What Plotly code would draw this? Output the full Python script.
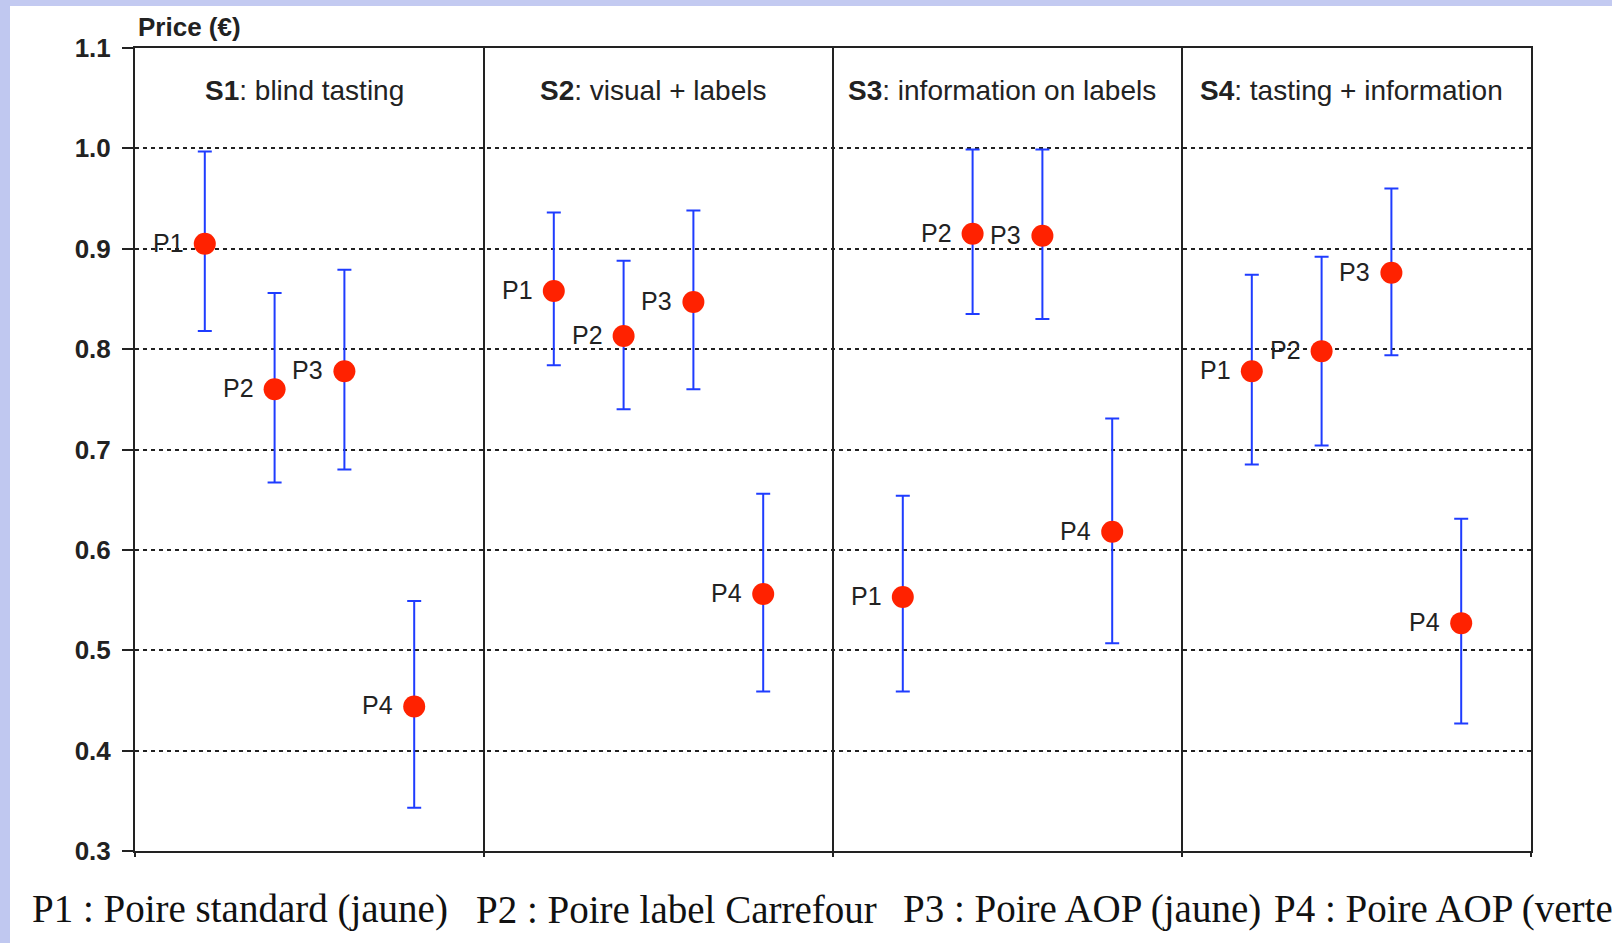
import plotly.graph_objects as go

# ---- data -------------------------------------------------------------
sessions = ["S1", "S2", "S3", "S4"]
session_titles = ["blind tasting", "visual + labels",
                  "information on labels", "tasting + information"]
products = ["P1", "P2", "P3", "P4"]

# mean willingness to pay (EUR) per product, one list per session
mean_s1 = [0.905, 0.760, 0.778, 0.444]
mean_s2 = [0.858, 0.813, 0.847, 0.556]
mean_s3 = [0.553, 0.915, 0.913, 0.618]
mean_s4 = [0.778, 0.798, 0.876, 0.527]

# upper / lower bounds of the intervals
upper_s1 = [0.997, 0.856, 0.879, 0.549]
upper_s2 = [0.936, 0.888, 0.938, 0.656]
upper_s3 = [0.654, 0.999, 0.999, 0.731]
upper_s4 = [0.874, 0.892, 0.960, 0.631]

lower_s1 = [0.818, 0.667, 0.680, 0.343]
lower_s2 = [0.784, 0.740, 0.760, 0.459]
lower_s3 = [0.459, 0.835, 0.830, 0.507]
lower_s4 = [0.685, 0.704, 0.794, 0.427]

y_ticks = [0.3, 0.4, 0.5, 0.6, 0.7, 0.8, 0.9, 1.0, 1.1]

legend_items = ["P1 : Poire standard (jaune)",
                "P2 : Poire label Carrefour",
                "P3 : Poire AOP (jaune)",
                "P4 : Poire AOP (verte)"]

means = [mean_s1, mean_s2, mean_s3, mean_s4]
uppers = [upper_s1, upper_s2, upper_s3, upper_s4]
lowers = [lower_s1, lower_s2, lower_s3, lower_s4]

# ---- geometry helpers --------------------------------------------------
W, H = 1612, 943
ML, MR, MT, MB = 135, 81, 48, 92
PW, PH = W - ML - MR, H - MT - MB


def px_x(px):
    return (px - ML) / PW


def px_y(py):
    return (H - MB - py) / PH


INK = "#222222"
SANS = "Liberation Sans, Arial, sans-serif"

# ---- traces -----------------------------------------------------------
xs, ys, hi, lo, txt = [], [], [], [], []
for i, s in enumerate(sessions):
    for j, p in enumerate(products):
        xs.append(i + (j + 1) / 5)
        ys.append(means[i][j])
        hi.append(uppers[i][j] - means[i][j])
        lo.append(means[i][j] - lowers[i][j])
        txt.append(p)

fig = go.Figure()
fig.add_trace(go.Scatter(
    x=xs, y=ys, mode="markers",
    marker=dict(color="#ff2200", size=22, line=dict(width=0)),
    error_y=dict(type="data", symmetric=False, array=hi, arrayminus=lo,
                 color="#1f3cff", thickness=2, width=7),
    showlegend=False, cliponaxis=False,
))

annotations = []

# product labels, to the left of each point
for x, y, t in zip(xs, ys, txt):
    annotations.append(dict(
        x=x, y=y, xref="x", yref="y", text=t, showarrow=False,
        xanchor="right", yanchor="middle", xshift=-19, yshift=1,
        font=dict(family=SANS, size=25, color=INK)))

# ---- panel titles -----------------------------------------------------
for i, (s, t) in enumerate(zip(sessions, session_titles)):
    annotations.append(dict(
        x=i + 0.485, y=1.058, xref="x", yref="y",
        text=f"<b>{s}</b>: {t}", showarrow=False,
        font=dict(family=SANS, size=28, color=INK),
        xanchor="center", yanchor="middle"))

annotations.append(dict(
    x=px_x(136), y=px_y(27), xref="paper", yref="paper",
    text="Price (€)", showarrow=False,
    font=dict(family=SANS, size=26, color=INK, weight="bold"),
    xanchor="left", yanchor="middle"))

legend_px = [30, 474, 901, 1272]
for lx, item in zip(legend_px, legend_items):
    annotations.append(dict(
        x=px_x(lx), y=px_y(909), xref="paper", yref="paper",
        text=item, showarrow=False,
        font=dict(family="Liberation Serif, Times New Roman, serif",
                  size=39, color="#111111"),
        xanchor="left", yanchor="middle"))

# ---- slide background bands -------------------------------------------
shapes = [
    dict(type="rect", xref="paper", yref="paper",
         x0=px_x(0), x1=px_x(W), y0=px_y(0), y1=px_y(6),
         fillcolor="#c3caf1", line=dict(width=0), layer="below"),
    dict(type="rect", xref="paper", yref="paper",
         x0=px_x(0), x1=px_x(10), y0=px_y(0), y1=px_y(H),
         fillcolor="#c0c8f0", line=dict(width=0), layer="below"),
]

fig.update_layout(
    width=W, height=H,
    margin=dict(l=ML, r=MR, t=MT, b=MB, pad=0),
    paper_bgcolor="white", plot_bgcolor="white",
    annotations=annotations, shapes=shapes,
    xaxis=dict(range=[0, 4], tickmode="linear", tick0=0, dtick=1,
               showticklabels=False, ticks="outside", ticklen=4,
               tickwidth=2, tickcolor=INK,
               showgrid=True, gridcolor=INK, gridwidth=2,
               showline=True, linecolor=INK, linewidth=2, mirror=True,
               zeroline=False),
    yaxis=dict(range=[0.3, 1.1], tickmode="array", tickvals=y_ticks,
               ticktext=[f"{v:.1f}" for v in y_ticks],
               ticks="outside", ticklen=11, tickwidth=2, tickcolor=INK,
               ticklabelstandoff=6,
               tickfont=dict(family=SANS, size=26, color=INK, weight="bold"),
               showgrid=True, gridcolor=INK, gridwidth=2, griddash="4px,4px",
               showline=True, linecolor=INK, linewidth=2, mirror=True,
               zeroline=False),
)

fig.write_html("out.html")
